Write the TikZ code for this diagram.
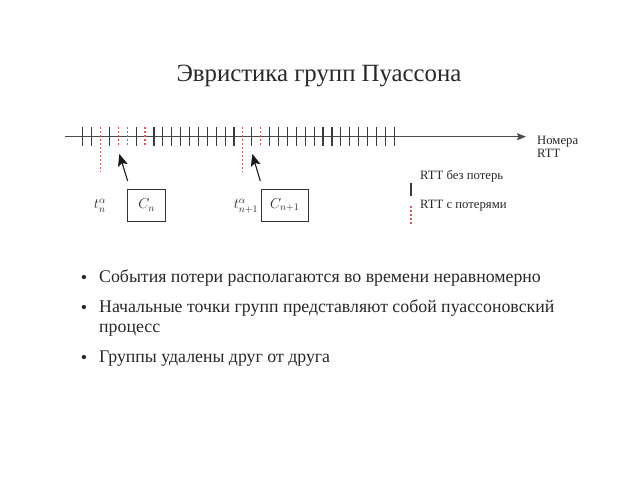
\documentclass[tikz,border=0pt]{standalone}
\usepackage{fontspec}
\setmainfont{Liberation Serif}
\usetikzlibrary{arrows.meta}
\definecolor{txt}{RGB}{40,40,40}
\definecolor{tick}{RGB}{60,60,60}
\definecolor{lossred}{RGB}{215,90,90}
\tikzset{
  tickline/.style={tick, line width=1.2pt},
  redtick/.style={lossred, line width=1.1pt, dash pattern=on 2pt off 2pt},
  pointer/.style={black!90, line width=1.1pt, -{Stealth[length=12pt,width=10pt,inset=2.5pt]}},
  groupbox/.style={draw=black!80, line width=0.9pt, minimum width=#1, minimum height=32pt, inner sep=0pt, text=txt, font=\fontsize{14}{16}\selectfont},
  small/.style={font=\fontsize{12.7}{14}\selectfont, text=txt, inner sep=0pt},
  bullettext/.style={font=\fontsize{17.8}{21}\selectfont, text=txt, inner sep=0pt, anchor=base west},
  bulletdot/.style={font=\fontsize{18}{20}\selectfont, text=txt, inner sep=0pt, anchor=base},
}
\begin{document}
\begin{tikzpicture}[x=1pt,y=-1pt]
\useasboundingbox[fill=white] (0,0) rectangle (640,480);

% title
\node[font=\fontsize{24.8}{28}\selectfont, text=txt, anchor=base, inner sep=0pt] (title) at (319,81) {Эвристика групп Пуассона};

% axis
\coordinate (axstart) at (65,136.7);
\coordinate (axend) at (526,136.7);
\draw[black!70, line width=1pt, -{Stealth[length=9pt,width=7pt,inset=1.5pt]}] (axstart) -- (axend);
\node[small, anchor=base west] (axlabel1) at (537,144) {Номера};
\node[small, anchor=base west] (axlabel2) at (537,157.5) {RTT};

% ticks
\foreach \k in {0,1,3,6,8,9,10,11,12,13,14,15,16,17,19,21,22,23,24,25,26,27,28,29,30,31,32,33,34,35}{
  \draw[tickline] ({82.7+8.9*\k},127) -- ({82.7+8.9*\k},146);
}
\foreach \k in {4,5,7,20}{
  \draw[redtick] ({82.7+8.9*\k},127) -- ({82.7+8.9*\k},146);
}
\foreach \k in {2,18}{
  \draw[redtick] ({82.7+8.9*\k},127) -- ({82.7+8.9*\k},172);
}

% groups
\node[groupbox=38pt] (cn) at (146.7,205) {$C_n$};
\node[groupbox=47pt] (cn1) at (284.7,205) {$C_{n+1}$};
\node[text=txt, inner sep=0pt, font=\fontsize{14}{16}\selectfont] (tn) at (100,206) {$t_n^{\alpha}$};
\node[text=txt, inner sep=0pt, font=\fontsize{14}{16}\selectfont] (tn1) at (246,206) {$t_{n+1}^{\alpha}$};

\coordinate (p1tail) at (127.7,181);
\coordinate (p1tip) at (119.3,154);
\coordinate (p2tail) at (260.3,181);
\coordinate (p2tip) at (252.3,154);
\draw[pointer] (p1tail) -- (p1tip);
\draw[pointer] (p2tail) -- (p2tip);

% legend
\coordinate (lb1) at (411,183);
\coordinate (lb2) at (411,196);
\coordinate (lr1) at (411,206);
\coordinate (lr2) at (411,225);
\draw[tick, line width=1.3pt] (lb1) -- (lb2);
\draw[redtick] (lr1) -- (lr2);
\node[small, anchor=base west] (leg1) at (420,179) {RTT без потерь};
\node[small, anchor=base west] (leg2) at (420,208) {RTT с потерями};

% bullets
\foreach \y/\n in {283.5/b1,313.5/b2,363.5/b3}{
  \node[bulletdot] (\n) at (84,\y) {•};
}
\node[bullettext] (l1) at (99,282) {События потери располагаются во времени неравномерно};
\node[bullettext] (l2) at (99,312) {Начальные точки групп представляют собой пуассоновский};
\node[bullettext] (l2b) at (99,332) {процесс};
\node[bullettext] (l3) at (99,362) {Группы удалены друг от друга};
\end{tikzpicture}
\end{document}
